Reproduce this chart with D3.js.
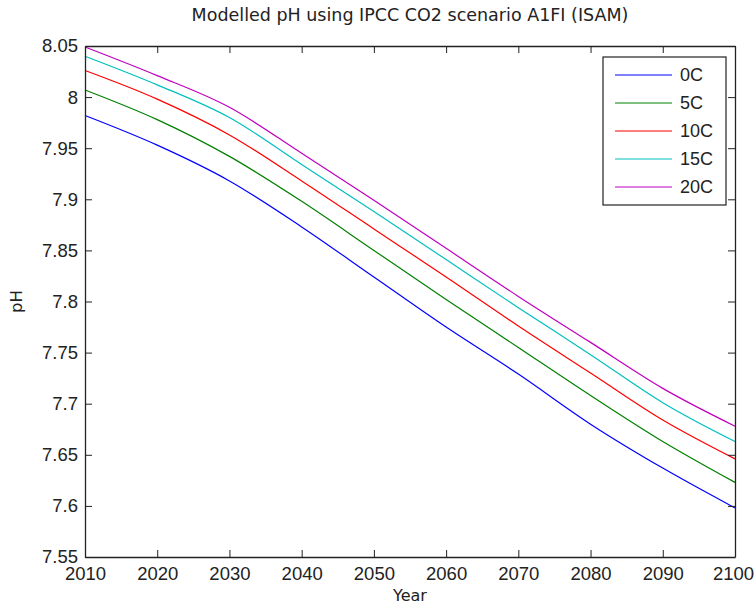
<!DOCTYPE html>
<html>
<head>
<meta charset="utf-8">
<script src="https://cdn.jsdelivr.net/npm/d3@7"></script>
<style>
  html, body { margin: 0; padding: 0; background: #fff; }
  svg { display: block; font-family: "Liberation Sans", Arial, sans-serif; }
</style>
</head>
<body>
<svg id="chart" width="754" height="607"></svg>
<script>
// Modelled surface-ocean pH, IPCC A1FI CO2 pathway (ISAM), by temperature
const years = [2010, 2020, 2030, 2040, 2050, 2060, 2070, 2080, 2090, 2100];
const seriesNames = ["0C", "5C", "10C", "15C", "20C"];
const ph0C  = [7.982, 7.953, 7.918, 7.873, 7.824, 7.775, 7.729, 7.680, 7.637, 7.598];
const ph5C  = [8.007, 7.978, 7.942, 7.898, 7.850, 7.802, 7.755, 7.708, 7.663, 7.623];
const ph10C = [8.026, 7.998, 7.963, 7.918, 7.871, 7.824, 7.776, 7.730, 7.684, 7.646];
const ph15C = [8.040, 8.012, 7.980, 7.934, 7.888, 7.841, 7.794, 7.748, 7.701, 7.663];
const ph20C = [8.049, 8.021, 7.990, 7.945, 7.899, 7.852, 7.805, 7.760, 7.715, 7.678];
const seriesColors = ["#0000ff", "#008000", "#ff0000", "#00bfbf", "#bf00bf"];
const xTicks = [2010, 2020, 2030, 2040, 2050, 2060, 2070, 2080, 2090, 2100];
const yTicks = [7.55, 7.6, 7.65, 7.7, 7.75, 7.8, 7.85, 7.9, 7.95, 8, 8.05];

const series = [ph0C, ph5C, ph10C, ph15C, ph20C].map((vals, i) => ({
  name: seriesNames[i],
  color: seriesColors[i],
  points: years.map((yr, j) => ({ year: yr, ph: vals[j] }))
}));

const svg = d3.select("#chart");
const plotLeft = 85, plotRight = 735, plotTop = 46, plotBottom = 557;
const tickLen = 7;
const axisColor = "#222";
const tickFont = "18.5px";

const x = d3.scaleLinear().domain([2010, 2100]).range([plotLeft, plotRight]);
const y = d3.scaleLinear().domain([7.55, 8.05]).range([plotBottom, plotTop]);

// data lines
const line = d3.line().x(d => x(d.year)).y(d => y(d.ph)).curve(d3.curveMonotoneX);
svg.append("g").selectAll("path")
  .data(series)
  .join("path")
  .attr("d", d => line(d.points))
  .attr("fill", "none")
  .attr("stroke", d => d.color)
  .attr("stroke-width", 1.2);

// axes: ticks point inward on all four sides
const fmtY = d => (d === 8 ? "8" : d3.format(".2~f")(d));
const axisBottom = d3.axisBottom(x).tickValues(xTicks).tickFormat(d3.format("d"))
  .tickSizeInner(-tickLen).tickSizeOuter(0).tickPadding(10);
const axisLeft = d3.axisLeft(y).tickValues(yTicks).tickFormat(fmtY)
  .tickSizeInner(-tickLen).tickSizeOuter(0).tickPadding(7);
const axisTop = d3.axisTop(x).tickValues(xTicks).tickFormat("")
  .tickSizeInner(-tickLen).tickSizeOuter(0);
const axisRight = d3.axisRight(y).tickValues(yTicks).tickFormat("")
  .tickSizeInner(-tickLen).tickSizeOuter(0);

function styleAxis(g) {
  g.selectAll("path.domain").attr("stroke", axisColor).attr("stroke-width", 1.3);
  g.selectAll(".tick line").attr("stroke", axisColor).attr("stroke-width", 1);
  g.selectAll(".tick text").attr("fill", "#222").style("font-size", tickFont)
    .style("font-family", "'Liberation Sans', Arial, sans-serif");
}

const gx = svg.append("g").attr("transform", `translate(0,${plotBottom})`).call(axisBottom).call(styleAxis);
// keep the last year label inside the window
gx.selectAll(".tick text").filter(d => d === 2100).attr("dx", -2);
svg.append("g").attr("transform", `translate(${plotLeft},0)`).call(axisLeft).call(styleAxis);
svg.append("g").attr("transform", `translate(0,${plotTop})`).call(axisTop).call(styleAxis);
svg.append("g").attr("transform", `translate(${plotRight},0)`).call(axisRight).call(styleAxis);

// title and axis labels
const labelFont = "'DejaVu Sans', 'Liberation Sans', sans-serif";
svg.append("text")
  .attr("x", (plotLeft + plotRight) / 2).attr("y", 21)
  .attr("text-anchor", "middle")
  .style("font-family", labelFont)
  .style("font-size", "17.5px").attr("fill", "#222")
  .text("Modelled pH using IPCC CO2 scenario A1FI (ISAM)");

svg.append("text")
  .attr("x", (plotLeft + plotRight) / 2).attr("y", 601)
  .attr("text-anchor", "middle")
  .style("font-family", labelFont)
  .style("font-size", "16px").attr("fill", "#222")
  .text("Year");

svg.append("text")
  .attr("transform", `translate(22,${(plotTop + plotBottom) / 2}) rotate(-90)`)
  .attr("text-anchor", "middle")
  .style("font-family", labelFont)
  .style("font-size", "16.5px").attr("fill", "#222")
  .text("pH");

// legend
const lg = svg.append("g").attr("transform", "translate(603,57)");
lg.append("rect")
  .attr("width", 123).attr("height", 148)
  .attr("fill", "#fff").attr("stroke", axisColor).attr("stroke-width", 1.2);
const rowY = d3.scalePoint().domain(seriesNames).range([18, 130]);
const rows = lg.selectAll("g.row").data(series).join("g")
  .attr("class", "row")
  .attr("transform", d => `translate(0,${Math.round(rowY(d.name))})`);
rows.append("line")
  .attr("x1", 12).attr("x2", 69)
  .attr("stroke", d => d.color).attr("stroke-width", 1.2);
rows.append("text")
  .attr("x", 77).attr("dy", "0.36em")
  .style("font-size", "18px").attr("fill", "#222")
  .text(d => d.name);
</script>
</body>
</html>
